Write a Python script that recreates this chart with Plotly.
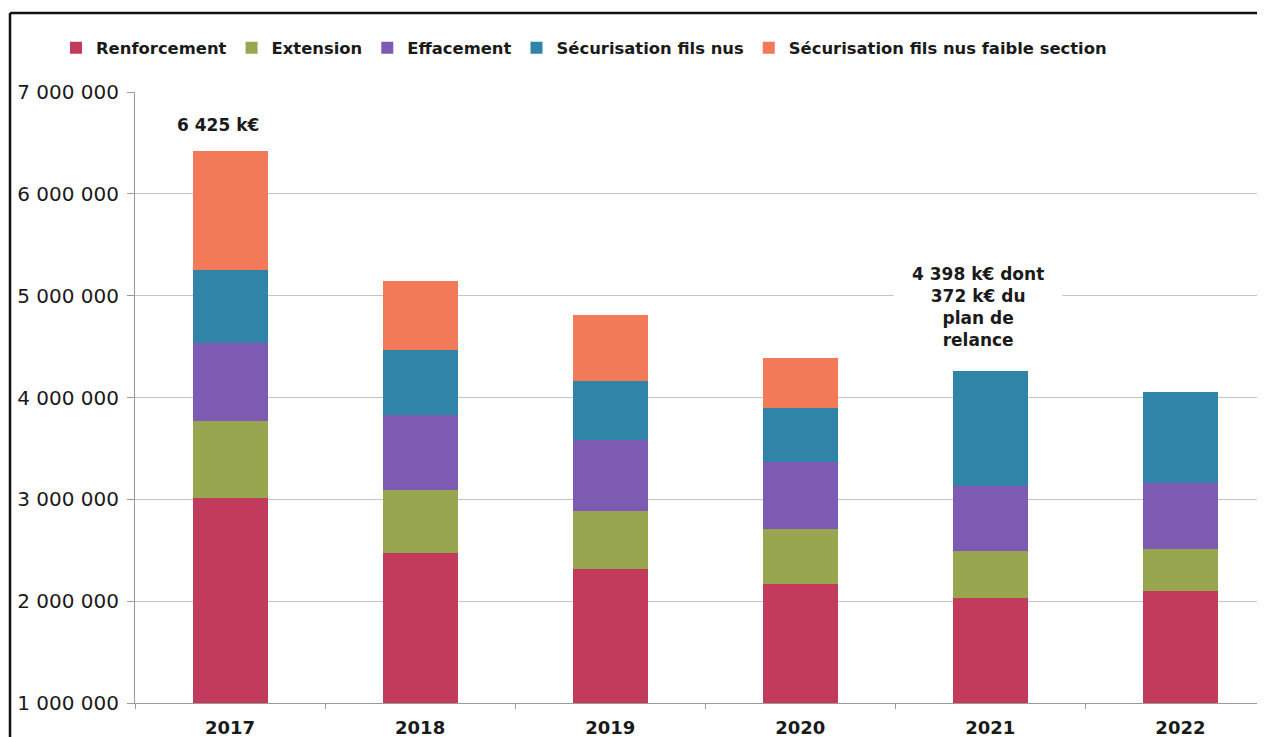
import plotly.graph_objects as go

years = ["2017", "2018", "2019", "2020", "2021", "2022"]
renforcement = [3010000, 2475000, 2315000, 2168000, 2027000, 2102000]
extension = [760000, 615000, 569000, 540000, 461000, 412000]
effacement = [770000, 736000, 700000, 663000, 645000, 651000]
securisation = [713000, 644000, 576000, 530000, 1131000, 890000]
securisation_faible = [1170000, 677000, 651000, 491000, 0, 0]

series_names = ["Renforcement", "Extension", "Effacement",
                "Sécurisation fils nus", "Sécurisation fils nus faible section"]
series_values = [renforcement, extension, effacement, securisation, securisation_faible]
series_colors = ["#C23A5C", "#98A650", "#7E5BB2", "#2F84A8", "#F27A58"]

tick_vals = [1000000, 2000000, 3000000, 4000000, 5000000, 6000000, 7000000]
tick_text = ["1 000 000", "2 000 000", "3 000 000", "4 000 000",
             "5 000 000", "6 000 000", "7 000 000"]

total_2017_label = "6 425 k€"
note_2021_label = "4 398 k€ dont<br>372 k€ du<br>plan de<br>relance"

fig = go.Figure()
for name, vals, col in zip(series_names, series_values, series_colors):
    fig.add_trace(go.Bar(x=years, y=vals, name=name, marker_color=col,
                         marker_line_width=0, hoverinfo="skip"))

FONT = "DejaVu Sans"
# the page puts the figure 8px from the window's top-left corner
W, H = 1257, 729
L, T, B = 127, 84, 34
PW = W - L
PH = H - T - B

fig.update_layout(
    barmode="stack",
    bargap=0.605,
    width=W, height=H,
    margin=dict(l=L, r=0, t=T, b=B, pad=0),
    paper_bgcolor="white", plot_bgcolor="white",
    font=dict(family=FONT, color="#222222"),
    showlegend=True,
    legend=dict(orientation="h", xref="container", yref="container",
                x=48 / W, y=1 - 40 / H, xanchor="left", yanchor="middle",
                font=dict(family=FONT, size=16.4, color="#1a1a1a", weight="bold"),
                itemwidth=30, traceorder="normal", bgcolor="rgba(0,0,0,0)"),
    xaxis=dict(type="category", range=[-0.5, 5.445], showgrid=False,
               showline=True, linecolor="#9a9a9a", linewidth=1,
               ticks="outside", tickson="boundaries", ticklen=5, tickcolor="#9a9a9a",
               tickfont=dict(family=FONT, size=18, color="#1a1a1a", weight="bold"),
               ticklabelstandoff=8),
    yaxis=dict(range=[1000000, 7000000], tickvals=tick_vals, ticktext=tick_text,
               showgrid=True, gridcolor="#c4c4c4", gridwidth=1,
               showline=True, linecolor="#9a9a9a", linewidth=1,
               ticks="outside", ticklen=7, tickcolor="#9a9a9a",
               tickfont=dict(family=FONT, size=20, color="#1a1a1a"),
               ticklabelstandoff=4, zeroline=False),
)

# category axes take the category index for annotation positions
fig.add_annotation(xref="x", yref="y", x=years.index("2017"), y=6675000,
                   text="<b>" + total_2017_label + "</b>", showarrow=False,
                   xshift=-12,
                   font=dict(family=FONT, size=17, color="#1a1a1a"))
fig.add_annotation(xref="x", yref="y", x=years.index("2021"), y=4884000,
                   text="<b>" + note_2021_label.replace("<br>", "</b><br><b>") + "</b>",
                   showarrow=False, xshift=-12, bgcolor="white", borderpad=18,
                   align="center",
                   font=dict(family=FONT, size=17, color="#1a1a1a"))

# outer frame (left and top border of the original chart box)
fx = (2 - L) / PW
fy = (H - B - 5) / PH
fig.add_shape(type="line", xref="paper", yref="paper",
              x0=fx, x1=fx, y0=-0.2, y1=fy,
              line=dict(color="#111111", width=2.5))
fig.add_shape(type="line", xref="paper", yref="paper",
              x0=fx, x1=1.05, y0=fy, y1=fy,
              line=dict(color="#111111", width=2.5))

fig.write_html("out.html")
